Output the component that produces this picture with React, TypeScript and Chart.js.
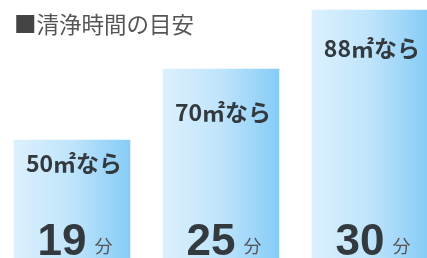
import { useEffect, useRef } from "react";
import { Chart, registerables } from "chart.js";

Chart.register(...registerables);

const titleText = "■清浄時間の目安";
const areaNumbers = ["50", "70", "88"];
const areaSuffix = "㎡なら";
const minutes = [19, 25, 30];
const unitText = "分";
const labelOffsets = [23, 43, 38];

const FONT = '"Noto Sans CJK JP", "Noto Sans", sans-serif';
const NUMFONT = '"Liberation Sans", Arial, sans-serif';

const textPlugin = {
  id: "infoText",
  afterDatasetsDraw(chart: any) {
    const c = chart.ctx;
    const meta = chart.getDatasetMeta(0);
    c.save();
    // title
    c.textBaseline = "middle";
    c.textAlign = "left";
    c.font = `400 22.5px ${FONT}`;
    c.fillStyle = "#444444";
    c.fillText(titleText.slice(0, 1), 14, 24);
    const w0 = c.measureText(titleText.slice(0, 1)).width;
    c.fillStyle = "#555555";
    c.fillText(titleText.slice(1), 14 + w0, 24);

    meta.data.forEach((el: any, i: number) => {
      const cx = el.x;
      const top = el.y;
      // area label
      c.textBaseline = "middle";
      c.fillStyle = "#333a3f";
      c.font = `700 23px ${FONT}`;
      const num = areaNumbers[i];
      const wNum = c.measureText(num).width;
      const wSuf = c.measureText(areaSuffix).width;
      const x = cx + 2 - (wNum + wSuf) / 2;
      const y = top + labelOffsets[i];
      c.textAlign = "left";
      c.fillText(num, x, y);
      c.fillText(areaSuffix, x + wNum, y);

      // minutes
      c.textBaseline = "alphabetic";
      c.font = `700 44px ${NUMFONT}`;
      const m = String(minutes[i]);
      const wm = c.measureText(m).width;
      c.font = `400 18px ${FONT}`;
      const wu = c.measureText(unitText).width;
      const gap = 8;
      const total = wm + gap + wu;
      const sx = cx + 3 - total / 2;
      const base = chart.chartArea.bottom - 3;
      c.fillStyle = "#333a3f";
      c.font = `700 44px ${NUMFONT}`;
      c.fillText(m, sx, base);
      c.fillStyle = "#555555";
      c.font = `400 18px ${FONT}`;
      c.fillText(unitText, sx + wm + gap, base - 2);
    });
    c.restore();
  },
};

export default function App() {
  const ref = useRef<HTMLCanvasElement | null>(null);
  useEffect(() => {
    document.body.style.margin = "0";
    const canvas = ref.current!;
    const chart = new Chart(canvas, {
      type: "bar",
      data: {
        datasets: [
          {
            data: minutes.map((v, i) => ({ x: i, y: v })),
            barThickness: 116,
            borderWidth: 0,
            backgroundColor: (ctx: any) => {
              const ch = ctx.chart;
              const xs = ch.scales && ch.scales.x;
              if (!xs || !ch.chartArea) return "#bde3fb";
              const cx = xs.getPixelForValue(ctx.dataIndex);
              const g = ch.ctx.createLinearGradient(cx - 58, 0, cx + 58, 0);
              g.addColorStop(0, "#dcf0fd");
              g.addColorStop(0.5, "#bfe4fb");
              g.addColorStop(1, "#86ccf7");
              return g;
            },
          },
        ],
      },
      options: {
        responsive: false,
        animation: false,
        layout: { padding: 0 },
        scales: {
          x: { type: "linear", min: -0.483, max: 2.383, offset: false, bounds: "ticks", display: false },
          y: { min: 9, max: 30.86, display: false },
        },
        plugins: {
          legend: { display: false },
          tooltip: { enabled: false },
          title: { display: false },
        },
      },
      plugins: [textPlugin],
    } as any);
    return () => chart.destroy();
  }, []);
  return (
    <div style={{ width: 427, height: 258, background: "#ffffff" }}>
      <canvas ref={ref} width={427} height={258} style={{ display: "block" }} />
    </div>
  );
}
